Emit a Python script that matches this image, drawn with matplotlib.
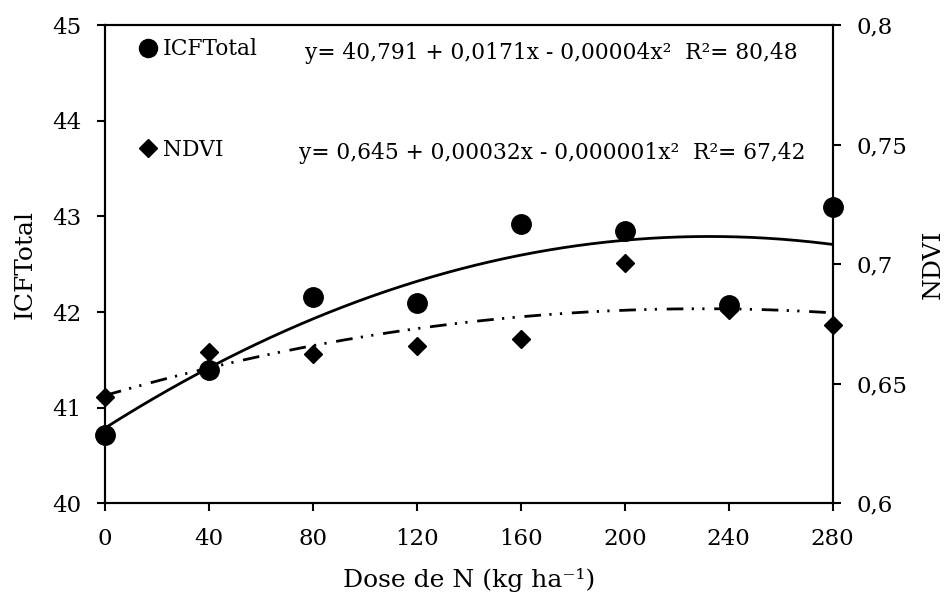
import numpy as np
import matplotlib
matplotlib.use('Agg')
import matplotlib.pyplot as plt
from matplotlib.lines import Line2D

# ---- data ----
dose = [0, 40, 80, 120, 160, 200, 240, 280]
icf = [40.71, 41.39, 42.16, 42.09, 42.92, 42.85, 42.07, 43.10]
ndvi = [0.6445, 0.6633, 0.6623, 0.6658, 0.6689, 0.7003, 0.6808, 0.6745]

x_ticks = [0, 40, 80, 120, 160, 200, 240, 280]
icf_ticks = [40, 41, 42, 43, 44, 45]
ndvi_ticks = [0.6, 0.65, 0.7, 0.75, 0.8]
ndvi_ticklabels = ['0,6', '0,65', '0,7', '0,75', '0,8']
eq_icf = 'y= 40,791 + 0,0171x - 0,00004x²  R²= 80,48'
eq_ndvi = 'y= 0,645 + 0,00032x - 0,000001x²  R²= 67,42'

plt.rcParams['font.family'] = ['DejaVu Serif']
tick_fs = 16.5
label_fs = 18
leg_fs = 15.7
eq_fs = 15.7
lw = 1.5
clw = 2.0

fig = plt.figure(figsize=(9.46, 5.96), dpi=100)
ax = fig.add_axes([0.1110, 0.1555, 0.7692, 0.8025])
ax2 = ax.twinx()

# fitted quadratic trend lines (as the spreadsheet trendline)
xs = np.linspace(min(dose), max(dose), 300)
c_icf = np.polyfit(dose, icf, 2)
c_ndvi = np.polyfit(dose, ndvi, 2)
ax.plot(xs, np.polyval(c_icf, xs), color='k', lw=clw, solid_capstyle='butt')
ax2.plot(xs, np.polyval(c_ndvi, xs), color='k', lw=clw,
         linestyle=(0, (6, 3, 0.8, 3, 0.8, 3.5)))

ax.plot(dose, icf, 'o', color='k', ms=14, clip_on=False, zorder=5)
ax2.plot(dose, ndvi, 'D', color='k', ms=9.5, clip_on=False, zorder=5)

ax.set_xlim(0, 280)
ax.set_ylim(40, 45)
ax2.set_ylim(0.6, 0.8)
ax.set_xticks(x_ticks)
ax.set_xticklabels([str(v) for v in x_ticks])
ax.set_yticks(icf_ticks)
ax.set_yticklabels([str(v) for v in icf_ticks])
ax2.set_yticks(ndvi_ticks)
ax2.set_yticklabels(ndvi_ticklabels)

for a in (ax, ax2):
    for s in a.spines.values():
        s.set_linewidth(lw)
        s.set_color('k')
ax.tick_params(axis='x', direction='out', length=6, width=lw, labelsize=tick_fs, pad=12, top=False)
ax.tick_params(axis='y', direction='out', length=6, width=lw, labelsize=tick_fs, pad=11)
ax2.tick_params(axis='y', direction='out', length=6, width=lw, labelsize=tick_fs, pad=11)

ax.set_xlabel('Dose de N (kg ha⁻¹)', fontsize=label_fs)
ax.xaxis.set_label_coords(0.5, -0.136)
ax.set_ylabel('ICFTotal', fontsize=label_fs)
ax.yaxis.set_label_coords(-0.094, 0.5)
ax2.set_ylabel('NDVI', fontsize=label_fs)
ax2.yaxis.set_label_coords(1.122, 0.5)

# legend
handles = [Line2D([], [], marker='o', color='k', ls='none', ms=13),
           Line2D([], [], marker='D', color='k', ls='none', ms=9)]
ax.legend(handles, ['ICFTotal', 'NDVI'], loc='upper left',
          bbox_to_anchor=(0.0444, 0.972), frameon=False, fontsize=leg_fs,
          borderpad=0, borderaxespad=0, handlelength=1.0, handletextpad=0.18,
          labelspacing=3.6)

ax.text(0.275, 0.9415, eq_icf, transform=ax.transAxes, fontsize=eq_fs,
        ha='left', va='center')
ax.text(0.2666, 0.7324, eq_ndvi, transform=ax.transAxes, fontsize=eq_fs,
        ha='left', va='center')

fig.savefig('out.png', dpi=100)
